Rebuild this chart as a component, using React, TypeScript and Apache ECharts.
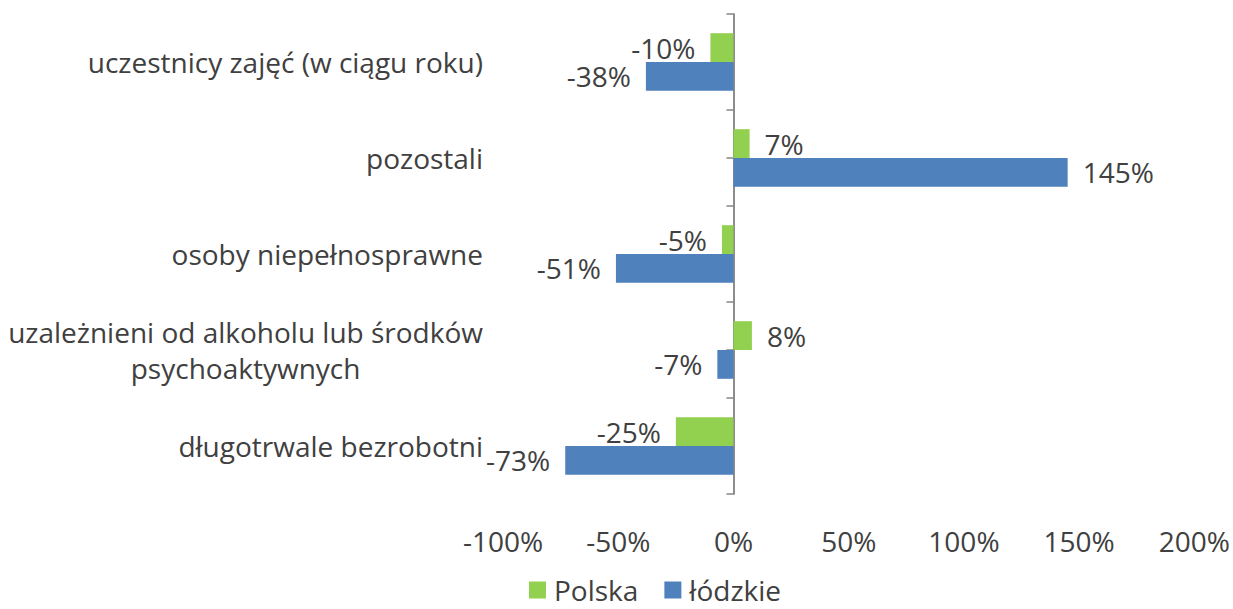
import React, { useEffect, useRef } from "react";
import * as echarts from "echarts";

const categories = [
  "uczestnicy zajęć (w ciągu roku)",
  "pozostali",
  "osoby niepełnosprawne",
  "uzależnieni od alkoholu lub środków\npsychoaktywnych",
  "długotrwale bezrobotni",
];
const polska = [-10, 7, -5, 8, -25];
const lodzkie = [-38, 145, -51, -7, -73];
const seriesNames = ["Polska", "łódzkie"];
const xMin = -100;
const xMax = 200;
const xStep = 50;

const FONT = '"Open Sans", "Noto Sans", sans-serif';
const FS = 28;
const TXT = "#404040";
const AX = "#868686";

function measure(text: string): number {
  const c = document.createElement("canvas");
  const ctx = c.getContext("2d");
  if (!ctx) return text.length * FS * 0.5;
  ctx.font = `${FS}px "Open Sans"`;
  return ctx.measureText(text).width;
}

export default function App() {
  const ref = useRef<HTMLDivElement>(null);
  useEffect(() => {
    if (!ref.current) return;
    const chart = echarts.init(ref.current, undefined, { renderer: "svg" });
    const longest = Math.max(
      ...categories.flatMap((c) => c.split("\n")).map((l) => measure(l))
    );
    const mkData = (arr: number[]) =>
      arr.map((v) => ({
        value: v,
        label: { position: v < 0 ? "left" : "right" },
      }));
    const labelCommon = {
      show: true,
      formatter: (p: any) => `${p.value}%`,
      color: TXT,
      fontFamily: FONT,
      fontSize: FS,
      distance: 15,
    };
    const tickAxis = (align: boolean) => ({
      type: "category",
      data: categories,
      inverse: true,
      position: "left",
      axisLine: { show: true, onZero: true, onZeroAxisIndex: 0, lineStyle: { color: AX, width: 1.5 } },
      axisTick: { show: true, length: 7, inside: false, alignWithLabel: align, lineStyle: { color: AX, width: 1.5 } },
      axisLabel: { show: false },
    });
    chart.setOption({
      animation: false,
      textStyle: { fontFamily: FONT },
      grid: { left: 503, right: 37, top: 14, bottom: 115, containLabel: false },
      legend: {
        bottom: 0,
        left: 524,
        icon: "rect",
        itemWidth: 17,
        itemHeight: 17,
        itemGap: 26,
        textStyle: { color: TXT, fontSize: FS, fontFamily: FONT, padding: [0, 0, 0, 3] },
        data: seriesNames,
      },
      xAxis: {
        type: "value",
        min: xMin,
        max: xMax,
        interval: xStep,
        axisLine: { show: false },
        axisTick: { show: false },
        splitLine: { show: false },
        axisLabel: {
          formatter: (v: number) => `${v}%`,
          color: TXT,
          fontSize: FS,
          fontFamily: FONT,
          margin: 33,
        },
      },
      yAxis: [
        {
          type: "category",
          data: categories,
          inverse: true,
          position: "left",
          axisLine: { show: false, onZero: false },
          axisTick: { show: false },
          axisLabel: {
            margin: 20,
            color: TXT,
            fontSize: FS,
            fontFamily: FONT,
            formatter: (v: string) =>
              v.includes("\n")
                ? v
                    .split("\n")
                    .map((l) => `{m|${l}}`)
                    .join("\n")
                : v,
            rich: {
              m: {
                width: longest,
                align: "center",
                color: TXT,
                fontSize: FS,
                fontFamily: FONT,
                lineHeight: 36,
              },
            },
          },
        },
        tickAxis(false),
        tickAxis(true),
      ],
      series: [
        {
          name: seriesNames[0],
          type: "bar",
          yAxisIndex: 0,
          data: mkData(polska),
          itemStyle: { color: "#92D050" },
          barGap: "0%",
          barCategoryGap: "40%",
          label: labelCommon,
        },
        {
          name: seriesNames[1],
          type: "bar",
          yAxisIndex: 0,
          data: mkData(lodzkie),
          itemStyle: { color: "#4F81BD" },
          barGap: "0%",
          barCategoryGap: "40%",
          label: labelCommon,
        },
      ],
    });
    return () => chart.dispose();
  }, []);
  return (
    <div
      ref={ref}
      style={{ position: "absolute", left: 0, top: 0, width: 1233, height: 609, background: "#fff" }}
    />
  );
}
